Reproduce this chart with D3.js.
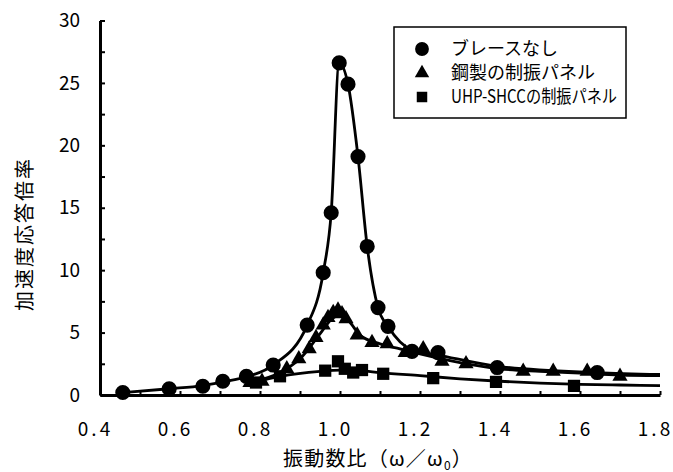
<!DOCTYPE html>
<html><head><meta charset="utf-8">
<script src="https://cdn.jsdelivr.net/npm/d3@7"></script>
<style>
body{margin:0;background:#fff;}
text{font-family:"Noto Sans CJK JP","Noto Sans",sans-serif;fill:#000;}
</style></head>
<body><svg id="c" width="673" height="472"></svg>
<script>
// ---- data ----
const xTicks = [0.4,0.5,0.6,0.7,0.8,0.9,1.0,1.1,1.2,1.3,1.4,1.5,1.6,1.7,1.8];
const xLabels = ["0.4","","0.6","","0.8","","1.0","","1.2","","1.4","","1.6","","1.8"];
const yTicks = [0,2.5,5,7.5,10,12.5,15,17.5,20,22.5,25,27.5,30];
const yLabels = ["0","","5","","10","","15","","20","","25","","30"];
const seriesNames = ["ブレースなし","鋼製の制振パネル","UHP-SHCCの制振パネル"];

// markers: ブレースなし (circles)
const circX = [0.457,0.573,0.657,0.707,0.766,0.833,0.918,0.958,0.978,0.998,1.02,1.045,1.068,1.095,1.12,1.18,1.245,1.393,1.643];
const circY = [0.2,0.5,0.7,1.1,1.5,2.4,5.6,9.8,14.6,26.6,24.9,19.1,11.9,7.0,5.5,3.5,3.4,2.2,1.8];
// curve: ブレースなし
const circLineX = [0.457,0.573,0.657,0.707,0.766,0.833,0.918,0.958,0.978,0.998,1.02,1.045,1.068,1.095,1.12,1.18,1.245,1.393,1.643,1.8];
const circLineY = [0.2,0.5,0.75,1.05,1.45,2.4,5.6,9.8,14.6,26.6,24.9,19.1,11.9,7.0,5.5,3.6,3.2,2.3,1.8,1.65];

// markers: 鋼製の制振パネル (triangles)
const triX = [0.775,0.805,0.867,0.897,0.923,0.94,0.958,0.97,0.983,0.995,1.005,1.015,1.043,1.08,1.118,1.163,1.208,1.255,1.315,1.458,1.533,1.618,1.70];
const triY = [1.0,1.1,2.1,2.9,3.7,4.6,5.6,6.2,6.6,6.8,6.5,6.1,4.8,4.2,4.1,3.4,3.7,2.7,2.5,1.9,1.9,1.9,1.5];
// curve: 鋼製の制振パネル
const triLineX = [0.775,0.85,0.9,0.95,0.98,1.0,1.02,1.05,1.1,1.15,1.2,1.3,1.4,1.5,1.6,1.7,1.8];
const triLineY = [1.0,1.8,2.9,4.9,6.1,6.4,6.0,4.8,4.1,3.7,3.3,2.6,2.1,1.9,1.75,1.6,1.55];

// markers: UHP-SHCCの制振パネル (squares)
const sqX = [0.79,0.85,0.963,0.995,1.012,1.033,1.055,1.108,1.233,1.39,1.585];
const sqY = [1.0,1.5,1.95,2.7,2.1,1.8,2.0,1.7,1.35,1.05,0.73];
// curve: UHP-SHCCの制振パネル
const sqLineX = [0.78,0.85,0.95,1.0,1.05,1.1,1.2,1.3,1.4,1.5,1.6,1.7,1.8];
const sqLineY = [1.0,1.5,1.9,2.0,1.95,1.8,1.55,1.3,1.1,0.95,0.85,0.8,0.75];

// ---- drawing ----
const svg = d3.select("#c");
const x = d3.scaleLinear().domain([0.4,1.8]).range([100,660]);
const y = d3.scaleLinear().domain([0,30]).range([395,20.5]);

// axes
const xAxis = d3.axisBottom(x).tickValues(xTicks).tickSizeInner(-4).tickSizeOuter(0).tickPadding(28)
  .tickFormat((d,i)=>xLabels[i]);
const gx = svg.append("g").attr("transform","translate(0,395)").call(xAxis);
gx.select(".domain").attr("stroke","#000").attr("stroke-width",3);
gx.selectAll(".tick line").attr("stroke","#000").attr("stroke-width",2);
gx.selectAll(".tick text").attr("font-size",19).attr("letter-spacing","3px").attr("dx","-5")
  .style("font-family","'Noto Sans CJK JP',sans-serif");

const yAxis = d3.axisLeft(y).tickValues(yTicks).tickSizeInner(-5).tickSizeOuter(0).tickPadding(20)
  .tickFormat((d,i)=>yLabels[i]);
const gy = svg.append("g").attr("transform","translate(100,0)").call(yAxis);
gy.select(".domain").attr("stroke","#000").attr("stroke-width",3);
gy.selectAll(".tick line").attr("stroke","#000").attr("stroke-width",2);
gy.selectAll(".tick text").attr("font-size",19).style("font-family","'Noto Sans CJK JP',sans-serif");

// axis titles
const xt = svg.append("text").attr("x",378).attr("y",466).attr("text-anchor","middle")
  .attr("font-size",20).attr("letter-spacing","1.2px");
xt.append("tspan").text("振動数比（ω／ω");
xt.append("tspan").attr("font-size",12).attr("dy",4).text("0");
xt.append("tspan").attr("dy",-4).text("）");
svg.append("text").attr("transform","translate(32,234) rotate(-90)").attr("text-anchor","middle")
  .attr("font-size",20).attr("letter-spacing","2px").text("加速度応答倍率");

// lines
const line = d3.line().x(d=>x(d[0])).y(d=>y(d[1])).curve(d3.curveMonotoneX);
const lines = [[circLineX,circLineY],[triLineX,triLineY],[sqLineX,sqLineY]];
lines.forEach(([xs,ys])=>{
  svg.append("path").datum(xs.map((v,i)=>[v,ys[i]])).attr("d",line)
    .attr("fill","none").attr("stroke","#000").attr("stroke-width",2.8);
});

// markers
const sym = [d3.symbolCircle,d3.symbolTriangle,d3.symbolSquare];
const symSize = [180,100,150];
const markers = [[circX,circY],[triX,triY],[sqX,sqY]];
markers.forEach(([xs,ys],k)=>{
  svg.append("g").selectAll("path").data(xs.map((v,i)=>[v,ys[i]])).join("path")
    .attr("transform",d=>`translate(${x(d[0])},${y(d[1])})`)
    .attr("d",d3.symbol().type(sym[k]).size(symSize[k])).attr("fill","#000");
});

// legend
const lg = svg.append("g");
lg.append("rect").attr("x",394).attr("y",27).attr("width",232).attr("height",91)
  .attr("fill","#fff").attr("stroke","#000").attr("stroke-width",1.5);
const legSym = [d3.symbolCircle,d3.symbolTriangle,d3.symbolSquare];
const legSize = [150,90,110];
seriesNames.forEach((n,i)=>{
  const cy = 49 + i*24;
  lg.append("path").attr("transform",`translate(422,${cy})`)
    .attr("d",d3.symbol().type(legSym[i]).size(legSize[i])).attr("fill","#000");
  const t = lg.append("text").attr("x",451).attr("y",cy+6).attr("font-size",18).text(n);
  if (/^[A-Za-z]/.test(n)) t.attr("textLength",166).attr("lengthAdjust","spacingAndGlyphs");
});
</script></body></html>
